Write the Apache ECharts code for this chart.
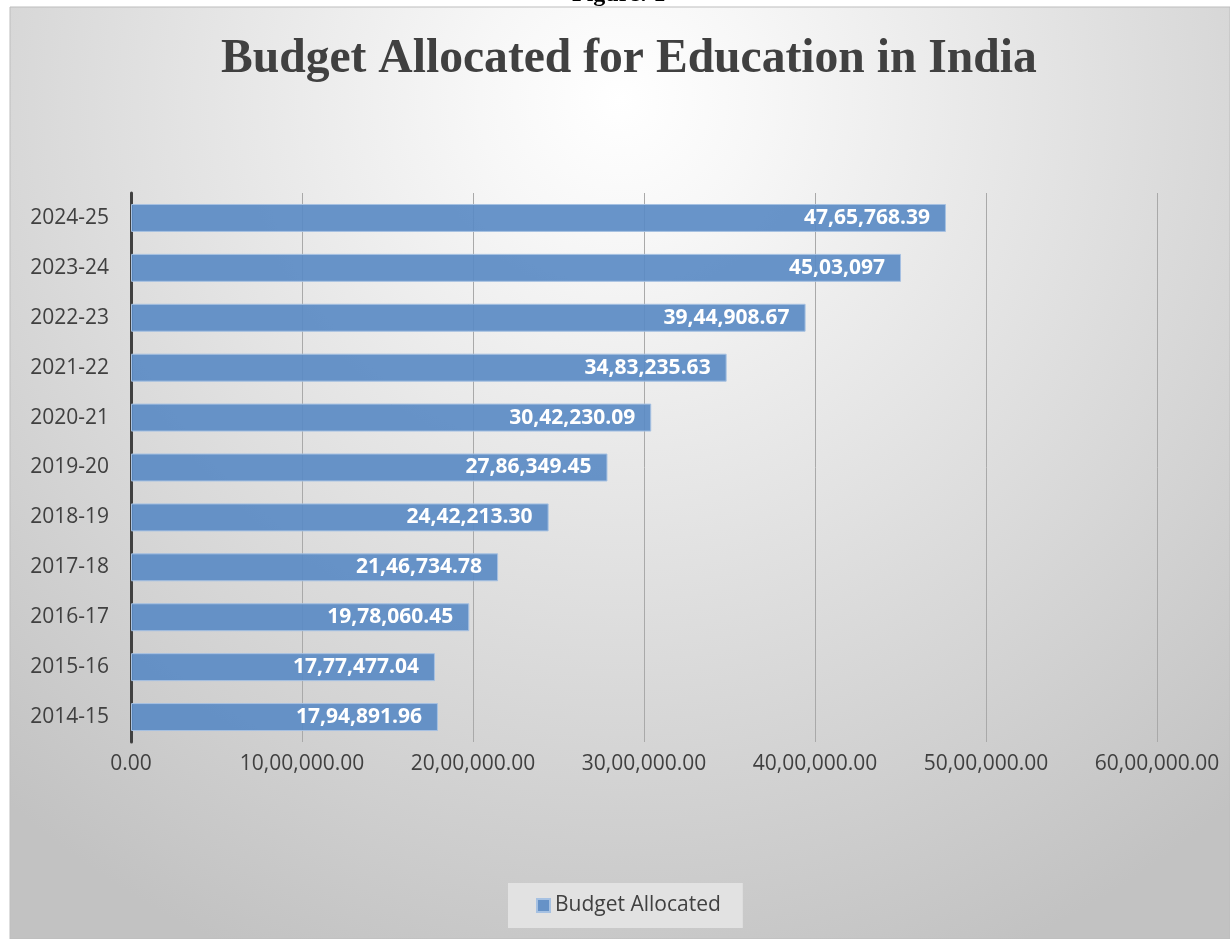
<!DOCTYPE html>
<html>
<head>
<meta charset="utf-8">
<script src="https://cdn.jsdelivr.net/npm/echarts@6/dist/echarts.min.js"></script>
<style>html,body{margin:0;padding:0;background:#fff;}#c{width:1230px;height:939px;}</style>
</head>
<body>
<div id="c"></div>
<script>
var categories = ['2014-15','2015-16','2016-17','2017-18','2018-19','2019-20','2020-21','2021-22','2022-23','2023-24','2024-25'];
var budgetRaw = ['1794891.96','1777477.04','1978060.45','2146734.78','2442213.30','2786349.45','3042230.09','3483235.63','3944908.67','4503097','4765768.39'];
var xTicks = [0, 1000000, 2000000, 3000000, 4000000, 5000000, 6000000];
var seriesName = 'Budget Allocated';

function indian(numStr) {
  var parts = numStr.split('.');
  var intPart = parts[0];
  var last3 = intPart.slice(-3);
  var rest = intPart.slice(0, -3);
  if (rest.length) {
    rest = rest.replace(/\B(?=(\d{2})+(?!\d))/g, ',');
    last3 = rest + ',' + last3;
  }
  return parts.length > 1 ? last3 + '.' + parts[1] : last3;
}

var values = budgetRaw.map(function (s) { return parseFloat(s); });

var chart = echarts.init(document.getElementById('c'));
chart.setOption({
  backgroundColor: '#ffffff',
  animation: false,
  graphic: [
    {
      type: 'rect', z: -10, silent: true,
      shape: { x: 10, y: 7, width: 1220, height: 932 },
      style: {
        fill: {
          type: 'radial', x: 0.5, y: 0.1, r: 1.0,
          colorStops: [{ offset: 0, color: '#ffffff' }, { offset: 0.15, color: '#f7f7f7' }, { offset: 1, color: '#c2c2c2' }]
        },
        stroke: '#bdbdbd', lineWidth: 1
      }
    },
    {
      type: 'text', left: 572, top: -17, silent: true,
      style: { text: 'Figure: 1', font: 'bold 24px "Liberation Serif", serif', fill: '#000' }
    }
  ],
  title: {
    text: 'Budget Allocated for Education in India',
    left: 216, top: 31,
    textStyle: { fontFamily: '"Liberation Serif", serif', fontWeight: 'bold', fontSize: 47.6, color: '#404040' }
  },
  legend: {
    bottom: 11, left: 508,
    data: [seriesName],
    backgroundColor: '#e2e2e2',
    padding: [12, 22, 12, 28],
    itemWidth: 13, itemHeight: 13, itemGap: 6,
    icon: 'rect',
    textStyle: { fontFamily: '"Open Sans", sans-serif', fontSize: 21, color: '#404040' }
  },
  grid: { left: 131, right: 73, top: 193, bottom: 197, containLabel: false },
  xAxis: {
    type: 'value', min: 0, max: 6000000, interval: 1000000,
    axisLine: { show: false }, axisTick: { show: false },
    splitLine: { show: true, lineStyle: { color: '#a9a9a9', width: 1 } },
    axisLabel: {
      margin: 12,
      fontFamily: '"Open Sans", sans-serif', fontSize: 21, color: '#404040',
      formatter: function (v) { return indian(Math.round(v).toString()) + '.00'; }
    }
  },
  yAxis: {
    type: 'category', data: categories,
    axisLine: { show: true, lineStyle: { color: '#404040', width: 3 } },
    axisTick: { show: false },
    axisLabel: { margin: 22, fontFamily: '"Open Sans", sans-serif', fontSize: 21, color: '#404040' }
  },
  series: [{
    name: seriesName, type: 'bar', data: values,
    barCategoryGap: '44%',
    itemStyle: { color: 'rgba(91,139,196,0.92)', borderColor: '#a6c1e2', borderWidth: 1 },
    label: {
      show: true, position: 'insideRight', distance: 16,
      fontFamily: '"Open Sans", sans-serif', fontWeight: 'bold', fontSize: 21, color: '#ffffff',
      formatter: function (p) { return indian(budgetRaw[p.dataIndex]); }
    }
  }]
});
</script>
</body>
</html>
